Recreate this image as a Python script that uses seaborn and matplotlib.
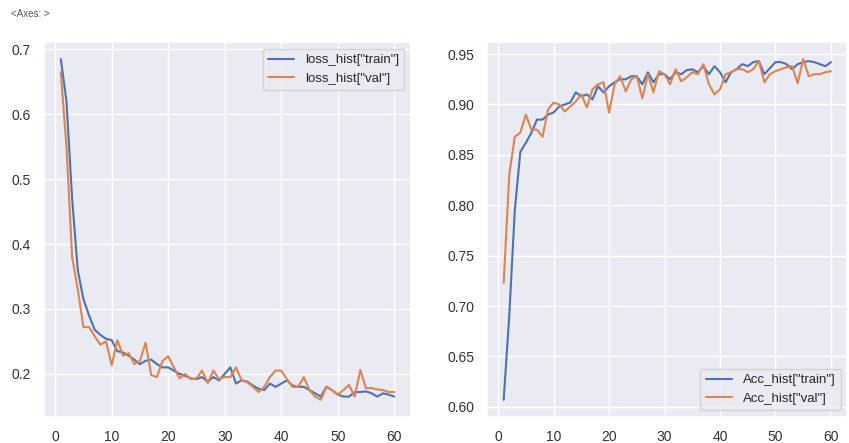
import matplotlib

matplotlib.use("Agg")
import matplotlib.pyplot as plt
import seaborn as sns

epochs = list(range(1, 61))

loss_train = [
    0.685, 0.620, 0.470, 0.360, 0.315, 0.290, 0.268, 0.260, 0.254, 0.252,
    0.235, 0.233, 0.228, 0.222, 0.215, 0.220, 0.222, 0.215, 0.210, 0.210,
    0.205, 0.200, 0.197, 0.193, 0.192, 0.195, 0.188, 0.195, 0.190, 0.200,
    0.210, 0.185, 0.190, 0.188, 0.182, 0.177, 0.175, 0.185, 0.180, 0.185,
    0.190, 0.182, 0.180, 0.180, 0.175, 0.170, 0.165, 0.180, 0.175, 0.168,
    0.165, 0.165, 0.172, 0.172, 0.173, 0.170, 0.165, 0.170, 0.168, 0.165,
]
loss_val = [
    0.665, 0.550, 0.380, 0.330, 0.272, 0.272, 0.258, 0.245, 0.250, 0.213,
    0.252, 0.228, 0.232, 0.215, 0.220, 0.248, 0.198, 0.195, 0.220, 0.227,
    0.210, 0.193, 0.200, 0.192, 0.193, 0.205, 0.186, 0.205, 0.192, 0.195,
    0.195, 0.210, 0.190, 0.187, 0.180, 0.172, 0.180, 0.195, 0.205, 0.205,
    0.192, 0.180, 0.180, 0.195, 0.175, 0.165, 0.160, 0.180, 0.175, 0.168,
    0.175, 0.183, 0.165, 0.206, 0.178, 0.178, 0.176, 0.175, 0.172, 0.172,
]
acc_train = [
    0.607, 0.690, 0.795, 0.853, 0.862, 0.872, 0.885, 0.885, 0.890, 0.892,
    0.898, 0.900, 0.902, 0.912, 0.908, 0.910, 0.905, 0.918, 0.912, 0.918,
    0.922, 0.925, 0.925, 0.928, 0.928, 0.920, 0.932, 0.922, 0.930, 0.930,
    0.925, 0.932, 0.930, 0.934, 0.935, 0.932, 0.938, 0.930, 0.938, 0.932,
    0.922, 0.932, 0.935, 0.940, 0.938, 0.942, 0.943, 0.930, 0.936, 0.942,
    0.942, 0.940, 0.935, 0.940, 0.942, 0.943, 0.942, 0.940, 0.938, 0.942,
]
acc_val = [
    0.723, 0.830, 0.868, 0.872, 0.890, 0.875, 0.875, 0.868, 0.895, 0.902,
    0.900, 0.893, 0.898, 0.903, 0.910, 0.897, 0.915, 0.920, 0.922, 0.892,
    0.920, 0.928, 0.913, 0.925, 0.928, 0.906, 0.930, 0.912, 0.933, 0.930,
    0.920, 0.935, 0.923, 0.927, 0.932, 0.930, 0.940, 0.920, 0.910, 0.915,
    0.930, 0.932, 0.935, 0.935, 0.932, 0.935, 0.943, 0.922, 0.930, 0.933,
    0.935, 0.937, 0.938, 0.921, 0.945, 0.928, 0.930, 0.930, 0.932, 0.933,
]

sns.set_theme(style="darkgrid")
plt.rcParams["font.family"] = ["Liberation Sans", "DejaVu Sans"]

fig = plt.figure(figsize=(8.49, 4.43), dpi=100)
ax_loss = fig.add_axes([0.052, 0.059, 0.432, 0.846])
ax_acc = fig.add_axes([0.574, 0.059, 0.424, 0.846])

sns.lineplot(x=epochs, y=loss_train, ax=ax_loss, label='loss_hist["train"]')
sns.lineplot(x=epochs, y=loss_val, ax=ax_loss, label='loss_hist["val"]')
sns.lineplot(x=epochs, y=acc_train, ax=ax_acc, label='Acc_hist["train"]')
sns.lineplot(x=epochs, y=acc_val, ax=ax_acc, label='Acc_hist["val"]')

ax_loss.legend(loc="upper right", fontsize=9.5)
ax_acc.legend(loc="lower right", fontsize=9.5)
ax_acc.set_yticks([0.60, 0.65, 0.70, 0.75, 0.80, 0.85, 0.90, 0.95])
ax_acc.set_yticklabels([f"{v:.2f}" for v in ax_acc.get_yticks()])
for ax in (ax_loss, ax_acc):
    ax.tick_params(labelsize=10, colors="#333333")

fig.text(0.013, 0.962, "<Axes: >", fontsize=7, color="#555555")

fig.savefig("out.png", dpi=100)
